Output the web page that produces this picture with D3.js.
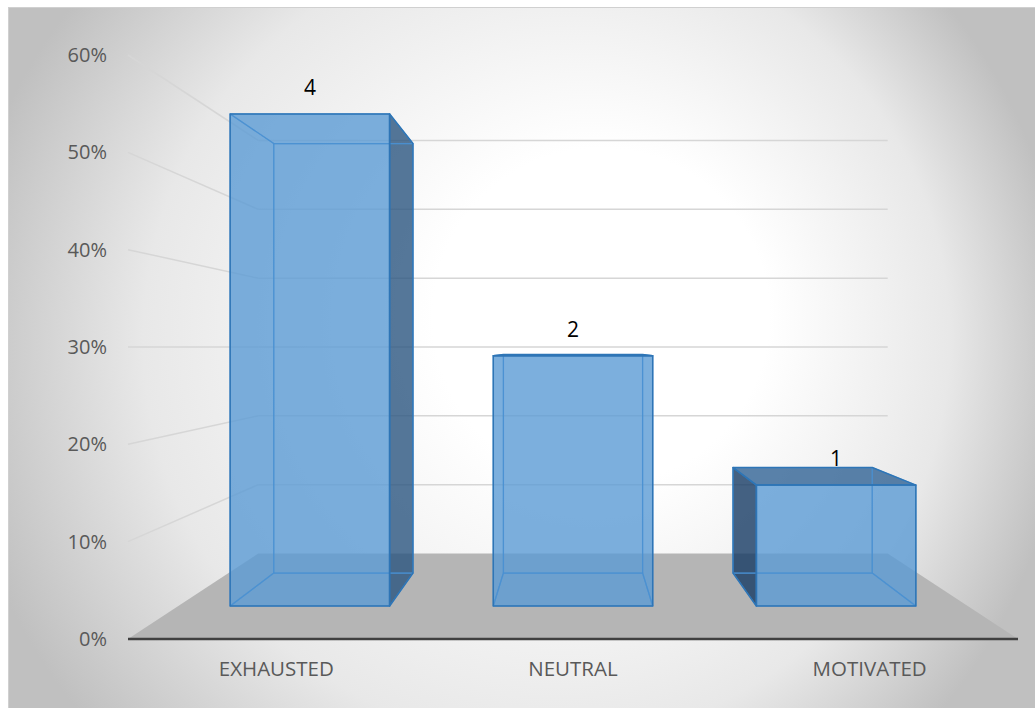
<!DOCTYPE html>
<html>
<head>
<meta charset="utf-8">
<script src="https://cdn.jsdelivr.net/npm/d3@7"></script>
<style>
  html, body { margin: 0; padding: 0; background: #ffffff; }
  svg { display: block; }
  text { font-family: "Open Sans", "Liberation Sans", sans-serif; }
</style>
</head>
<body>
<svg id="chart" width="1035" height="708"></svg>
<script>
// Survey answers: how respondents feel
const categories = ["EXHAUSTED", "NEUTRAL", "MOTIVATED"];
const counts = [4, 2, 1];
const shares = [0.57, 0.29, 0.14];
const yTicks = [0, 0.1, 0.2, 0.3, 0.4, 0.5, 0.6];

const W = 1035, H = 708;
const svg = d3.select("#chart");

// Front plane scales (the edge of the floor nearest the viewer)
const x = d3.scaleBand().domain(categories).range([128, 1018]).padding(0);
const y = d3.scaleLinear().domain([0, 0.6]).range([639, 55]);

// Simple one-point perspective: depth 0 = front edge, depth 1 = back wall
const vx = (x.range()[0] + x.range()[1]) / 2;
const vy = y(0.3);
const depthK = 0.414;
function project(px, py, z) {
  const s = 1 / (1 + depthK * z);
  return [vx + (px - vx) * s, vy + (py - vy) * s];
}
const line = d3.line();

// Chart area background
const defs = svg.append("defs");
const grad = defs.append("radialGradient")
  .attr("id", "bg")
  .attr("gradientUnits", "userSpaceOnUse")
  .attr("cx", 510).attr("cy", 354).attr("r", 560)
  .attr("fx", 640).attr("fy", 300);
[[0, "#ffffff"], [0.3, "#ffffff"], [0.72, "#e8e8e8"], [1, "#c0c0c0"]]
  .forEach(([o, c]) => grad.append("stop").attr("offset", o).attr("stop-color", c));

svg.append("rect")
  .attr("x", 8.5).attr("y", 7.5)
  .attr("width", W).attr("height", H)
  .attr("fill", "url(#bg)")
  .attr("stroke", "#d0d0d0");

const [x0, x1] = x.range();

// Floor
svg.append("path")
  .attr("d", line([
    project(x0, y(0), 0), project(x1, y(0), 0),
    project(x1, y(0), 1), project(x0, y(0), 1)
  ]) + "Z")
  .attr("fill", "#b5b5b5");

// Gridlines on the back wall and the left side wall
const grid = svg.append("g")
  .attr("stroke", "#d6d6d6")
  .attr("stroke-width", 1.5)
  .attr("fill", "none");
grid.selectAll("path.back")
  .data(yTicks.filter(t => t > 0))
  .join("path")
  .attr("class", "back")
  .attr("d", t => line([project(x0, y(t), 1), project(x1, y(t), 1)]));
grid.selectAll("path.side")
  .data(yTicks.filter(t => t > 0))
  .join("path")
  .attr("class", "side")
  .attr("d", t => line([project(x0, y(t), 0), project(x0, y(t), 1)]));

// Category axis line
svg.append("path")
  .attr("d", line([project(x0, y(0), 0), project(x1, y(0), 0)]))
  .attr("stroke", "#404040")
  .attr("stroke-width", 2.5);

// Value axis labels
svg.append("g")
  .selectAll("text")
  .data(yTicks)
  .join("text")
  .attr("x", x0 - 21)
  .attr("y", t => y(t))
  .attr("dy", "0.35em")
  .attr("text-anchor", "end")
  .attr("font-size", 20)
  .attr("fill", "#595959")
  .text(d3.format(".0%"));

// Category labels
svg.append("g")
  .selectAll("text")
  .data(categories)
  .join("text")
  .attr("x", c => x(c) + x.bandwidth() / 2)
  .attr("y", y(0) + 30)
  .attr("dy", "0.35em")
  .attr("text-anchor", "middle")
  .attr("font-size", 20.5)
  .attr("fill", "#595959")
  .text(c => c);

// 3D columns
const barHalf = x.bandwidth() / 1.65 / 2;
const zFront = 0.308, zBack = 0.705;
const faceFill = { front: "#5b9bd5", right: "#2a5580", left: "#163b64", top: "#316395" };

const bars = svg.append("g");
categories.forEach((c, i) => {
  const cx = x(c) + x.bandwidth() / 2;
  const xl = cx - barHalf, xr = cx + barHalf;
  const yb = y(0), yt = y(shares[i]);
  const P = (px, py, z) => project(px, py, z);

  const faces = {
    front: [P(xl, yt, zFront), P(xr, yt, zFront), P(xr, yb, zFront), P(xl, yb, zFront)],
    back: [P(xl, yt, zBack), P(xr, yt, zBack), P(xr, yb, zBack), P(xl, yb, zBack)],
    left: [P(xl, yt, zFront), P(xl, yt, zBack), P(xl, yb, zBack), P(xl, yb, zFront)],
    right: [P(xr, yt, zFront), P(xr, yt, zBack), P(xr, yb, zBack), P(xr, yb, zFront)],
    top: [P(xl, yt, zFront), P(xr, yt, zFront), P(xr, yt, zBack), P(xl, yt, zBack)],
    bottom: [P(xl, yb, zFront), P(xr, yb, zFront), P(xr, yb, zBack), P(xl, yb, zBack)]
  };
  const facing = {
    front: true,
    back: false,
    left: vx < xl,
    right: vx > xr,
    top: vy < yt,
    bottom: vy > yb
  };

  const g = bars.append("g");
  const shown = Object.keys(faces).filter(k => facing[k]);
  const hidden = Object.keys(faces).filter(k => !facing[k]);

  // Faces turned towards the viewer, translucent
  g.selectAll("path.face")
    .data(shown)
    .join("path")
    .attr("class", "face")
    .attr("d", k => line(faces[k]) + "Z")
    .attr("fill", k => faceFill[k])
    .attr("fill-opacity", 0.8)
    .attr("stroke", "none");

  // Edges of the far faces, seen through the column
  g.selectAll("path.inner")
    .data(hidden)
    .join("path")
    .attr("class", "inner")
    .attr("d", k => line(faces[k]) + "Z")
    .attr("fill", "none")
    .attr("stroke", "#4a90d2")
    .attr("stroke-opacity", 0.75)
    .attr("stroke-width", 1.2)
    .attr("stroke-linejoin", "round");

  // Outline of the near faces
  g.selectAll("path.edge")
    .data(shown)
    .join("path")
    .attr("class", "edge")
    .attr("d", k => line(faces[k]) + "Z")
    .attr("fill", "none")
    .attr("stroke", "#2e75b6")
    .attr("stroke-width", 1.5)
    .attr("stroke-linejoin", "round");

  // Count label above the column
  const top = P(cx, yt, zFront);
  g.append("text")
    .attr("x", top[0])
    .attr("y", top[1] - 26)
    .attr("dy", "0.35em")
    .attr("text-anchor", "middle")
    .attr("font-size", 21)
    .attr("fill", "#000000")
    .text(counts[i]);
});
</script>
</body>
</html>
